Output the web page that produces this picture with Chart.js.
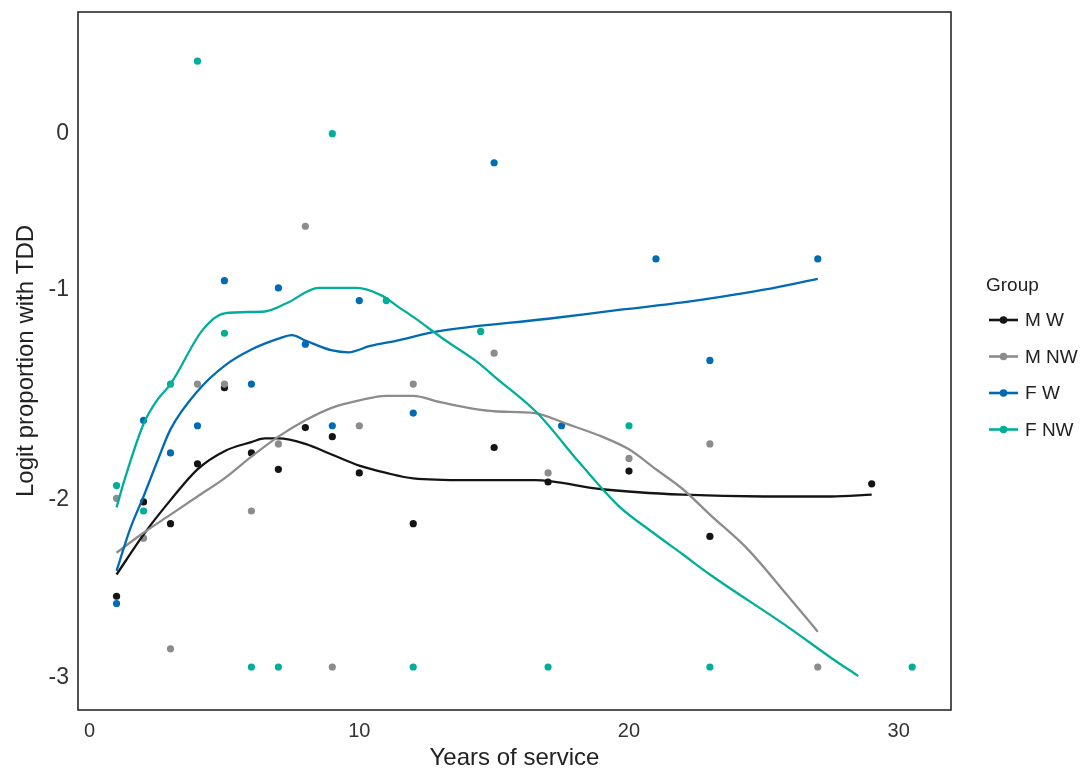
<!DOCTYPE html>
<html>
<head>
<meta charset="utf-8">
<script src="https://cdn.jsdelivr.net/npm/chart.js@4"></script>
<style>
  body { margin: 0; background: #fff; }
</style>
</head>
<body>
<canvas id="chart" width="1082" height="773"></canvas>
<script>
// groups
const groups = ['M W', 'M NW', 'F W', 'F NW']
const colors = ['#141414', '#8c8c8c', '#006bb4', '#00ae99']

// observed points, per group
const yearsMW = [1, 2, 3, 4, 5, 6, 7, 8, 9, 10, 12, 15, 17, 20, 23, 29]
const valuesMW = [-2.55, -2.03, -2.15, -1.82, -1.40, -1.76, -1.85, -1.62, -1.67, -1.87, -2.15, -1.73, -1.92, -1.86, -2.22, -1.93]

const yearsMNW = [1, 2, 3, 4, 5, 6, 7, 8, 9, 10, 12, 15, 17, 20, 23, 27]
const valuesMNW = [-2.01, -2.23, -2.84, -1.38, -1.38, -2.08, -1.71, -0.51, -2.94, -1.61, -1.38, -1.21, -1.87, -1.79, -1.71, -2.94]

const yearsFW = [1, 2, 3, 4, 5, 6, 7, 8, 9, 10, 12, 15, 17.5, 21, 23, 27]
const valuesFW = [-2.59, -1.58, -1.76, -1.61, -0.81, -1.38, -0.85, -1.16, -1.61, -0.92, -1.54, -0.16, -1.61, -0.69, -1.25, -0.69]

const yearsFNW = [1, 2, 3, 4, 5, 6, 7, 9, 11, 12, 14.5, 17, 20, 23, 30.5]
const valuesFNW = [-1.94, -2.08, -1.38, 0.40, -1.10, -2.94, -2.94, 0.00, -0.92, -2.94, -1.09, -2.94, -1.61, -2.94, -2.94]

// smoothed curves
const smoothXMW = [1, 2, 3, 4, 5, 6, 6.5, 7, 8, 9, 10, 11, 12, 14, 16.5, 19, 22, 25, 27.5, 29]
const smoothMW = [-2.43, -2.21, -2.02, -1.85, -1.75, -1.70, -1.68, -1.68, -1.71, -1.77, -1.83, -1.87, -1.90, -1.91, -1.91, -1.96, -1.99, -2.0, -2.0, -1.99]

const smoothXMNW = [1, 2, 3, 4, 5, 6, 7, 8, 9, 10, 11, 12, 13, 15, 16.5, 17.7, 19, 20, 21, 22, 23, 24.4, 25.9, 27]
const smoothMNW = [-2.31, -2.2, -2.1, -2.0, -1.9, -1.78, -1.67, -1.58, -1.51, -1.47, -1.445, -1.445, -1.48, -1.53, -1.54, -1.6, -1.67, -1.74, -1.85, -1.96, -2.1, -2.29, -2.55, -2.745]

const smoothXFW = [1, 1.5, 2, 2.5, 3, 4, 5, 6, 7, 7.5, 8, 9, 9.6, 10.4, 11.4, 12.9, 17, 19.7, 22, 23.4, 25, 27]
const smoothFW = [-2.41, -2.18, -2.0, -1.81, -1.63, -1.42, -1.28, -1.19, -1.13, -1.11, -1.14, -1.195, -1.205, -1.17, -1.14, -1.09, -1.02, -0.97, -0.93, -0.9, -0.86, -0.80]

const smoothXFNW = [1, 1.25, 2, 2.5, 3, 4.2, 5, 6.5, 7.3, 8.5, 9.9, 10.8, 11.5, 12, 13.2, 14.3, 15.1, 16.6, 18.2, 19.6, 20.9, 22, 23, 25.9, 27.5, 28.5]
const smoothFNW = [-2.06, -1.93, -1.6, -1.47, -1.38, -1.08, -0.99, -0.98, -0.935, -0.85, -0.85, -0.89, -0.96, -1.01, -1.14, -1.25, -1.35, -1.54, -1.82, -2.05, -2.2, -2.32, -2.43, -2.72, -2.89, -2.99]

// axis ticks
const xTicks = [0, 10, 20, 30]
const yTickValues = [0, -0.86, -2.02, -3]
const yTickLabels = ['0', '-1', '-2', '-3']

const font = "'Liberation Sans', Arial, sans-serif"

const pts = (xs, ys) => xs.map((x, i) => ({ x: x, y: ys[i] }))

const pointSets = [
    pts(yearsMW, valuesMW),
    pts(yearsMNW, valuesMNW),
    pts(yearsFW, valuesFW),
    pts(yearsFNW, valuesFNW),
]
const lineSets = [
    pts(smoothXMW, smoothMW),
    pts(smoothXMNW, smoothMNW),
    pts(smoothXFW, smoothFW),
    pts(smoothXFNW, smoothFNW),
]

let datasets = []
groups.forEach((g, i) => {
    datasets.push({
        label: g,
        data: pointSets[i],
        showLine: false,
        pointRadius: 3.6,
        pointBorderWidth: 0,
        pointBackgroundColor: colors[i],
        order: 10 - i,
    })
})
groups.forEach((g, i) => {
    datasets.push({
        label: g + ' smooth',
        data: lineSets[i],
        showLine: true,
        borderColor: colors[i],
        borderWidth: 2.3,
        pointRadius: 0,
        cubicInterpolationMode: 'monotone',
        order: 5 - i,
    })
})

// frame round the panel
const frame = {
    id: 'frame',
    afterDraw(chart) {
        const a = chart.chartArea
        const c = chart.ctx
        c.save()
        c.strokeStyle = '#1a1a1a'
        c.lineWidth = 1.5
        c.strokeRect(a.left, a.top, a.right - a.left, a.bottom - a.top)
        c.restore()
    }
}

// ggplot style legend on the right
const groupLegend = {
    id: 'groupLegend',
    afterDraw(chart) {
        const c = chart.ctx
        c.save()
        c.fillStyle = '#222'
        c.textBaseline = 'middle'
        c.font = '19px ' + font
        c.fillText('Group', 986, 286)
        groups.forEach((g, i) => {
            const y = 320 + i * 36.5
            c.strokeStyle = colors[i]
            c.lineWidth = 2.6
            c.beginPath()
            c.moveTo(989, y)
            c.lineTo(1018, y)
            c.stroke()
            c.fillStyle = colors[i]
            c.beginPath()
            c.arc(1003.5, y, 3.8, 0, Math.PI * 2)
            c.fill()
            c.fillStyle = '#222'
            c.fillText(g, 1025, y + 1)
        })
        c.restore()
    }
}

new Chart(document.querySelector('#chart'), {
    type: 'scatter',
    data: { datasets: datasets },
    plugins: [frame, groupLegend],
    options: {
        responsive: false,
        animation: false,
        devicePixelRatio: 1,
        layout: {
            padding: { top: 12, right: 131, left: 0, bottom: 0 }
        },
        plugins: {
            legend: { display: false },
            tooltip: { enabled: false },
        },
        scales: {
            x: {
                type: 'linear',
                min: -0.43,
                max: 31.94,
                afterBuildTicks: s => { s.ticks = xTicks.map(v => ({ value: v })) },
                afterFit: s => { s.height = 63; s.paddingLeft = 0; s.paddingRight = 0 },
                grid: { display: false, drawTicks: false },
                border: { display: false },
                ticks: {
                    autoSkip: false,
                    maxRotation: 0,
                    padding: 9,
                    color: '#333',
                    font: { family: font, size: 20 },
                    callback: v => String(v),
                },
                title: {
                    display: true,
                    text: 'Years of service',
                    color: '#222',
                    font: { family: font, size: 24 },
                    padding: { top: 0, bottom: 0 },
                },
            },
            y: {
                type: 'linear',
                min: -3.177,
                max: 0.671,
                afterBuildTicks: s => { s.ticks = yTickValues.map(v => ({ value: v })) },
                afterFit: s => { s.width = 78; s.paddingTop = 0; s.paddingBottom = 0 },
                grid: { display: false, drawTicks: false },
                border: { display: false },
                ticks: {
                    autoSkip: false,
                    padding: 9,
                    color: '#333',
                    font: { family: font, size: 23 },
                    callback: (v, i) => yTickLabels[i],
                },
                title: {
                    display: true,
                    text: 'Logit proportion with TDD',
                    color: '#222',
                    font: { family: font, size: 24 },
                    padding: { top: 12, bottom: 0 },
                },
            },
        },
    },
})
</script>
</body>
</html>
